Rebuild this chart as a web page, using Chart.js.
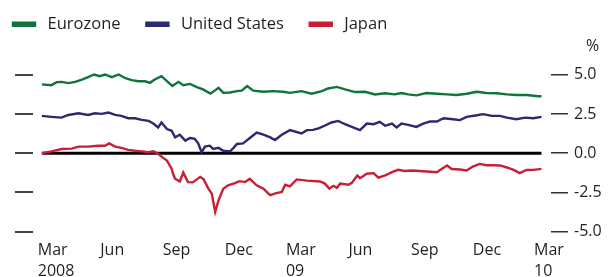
<!DOCTYPE html>
<html>
<head>
<meta charset="utf-8">
<script src="https://cdn.jsdelivr.net/npm/chart.js@4.4.1/dist/chart.umd.min.js"></script>
<style>
  html, body { margin: 0; padding: 0; background: #fff; }
  #chart { display: block; }
</style>
</head>
<body>
<canvas id="chart" width="615" height="277"></canvas>
<script>
// days counted from 1 Mar 2008
const tickDays = [0, 92, 184, 275, 365, 457, 549, 640, 730];
const tickLabels = [['Mar', '2008'], 'Jun', 'Sep', 'Dec', ['Mar', '09'], 'Jun', 'Sep', 'Dec', ['Mar', '10']];
const yTicks = [5, 2.5, 0, -2.5, -5];

const euroDays = [6, 20, 28, 35, 45, 55, 65, 74, 83, 91, 99, 109, 119, 128, 138, 148, 158, 165, 172, 182,
  190, 198, 207, 214, 224, 234, 243, 254, 266, 273, 283, 293, 300, 308, 317, 332, 346, 361, 371, 388,
  403, 418, 427, 440, 452, 467, 481, 496, 511, 525, 535, 545, 557, 572, 587, 602, 616, 631, 646, 660,
  675, 690, 704, 719, 736, 741];
const euroValues = [4.39, 4.34, 4.53, 4.55, 4.47, 4.55, 4.70, 4.85, 5.02, 4.91, 5.02, 4.85, 5.02, 4.80, 4.66, 4.59, 4.59, 4.49, 4.70, 4.91,
  4.59, 4.28, 4.55, 4.34, 4.42, 4.22, 4.07, 3.80, 4.17, 3.85, 3.87, 3.96, 3.99, 4.28, 3.99, 3.92, 3.96, 3.92, 3.85, 3.96,
  3.79, 3.96, 4.13, 4.23, 4.07, 3.90, 3.92, 3.75, 3.82, 3.75, 3.84, 3.75, 3.69, 3.84, 3.79, 3.75, 3.71, 3.79, 3.92, 3.84,
  3.82, 3.75, 3.71, 3.71, 3.63, 3.63];

const usDays = [6, 20, 35, 45, 60, 74, 84, 94, 104, 114, 123, 133, 143, 153, 163, 170, 177, 182, 190, 197,
  202, 209, 217, 224, 231, 236, 241, 246, 253, 258, 266, 273, 283, 288, 293, 302, 312, 322, 332, 342,
  349, 359, 371, 388, 396, 405, 413, 422, 432, 442, 452, 462, 474, 484, 494, 503, 511, 521, 528, 535,
  545, 557, 567, 577, 587, 597, 611, 621, 631, 646, 655, 668, 680, 690, 704, 717, 729, 741];
const usValues = [2.38, 2.32, 2.27, 2.44, 2.55, 2.44, 2.55, 2.51, 2.59, 2.44, 2.38, 2.23, 2.23, 2.13, 2.06, 1.89, 1.64, 1.96, 1.54, 1.43,
  1.01, 1.18, 0.80, 0.97, 0.91, 0.63, 0.06, 0.42, 0.48, 0.27, 0.34, 0.16, 0.12, 0.34, 0.59, 0.63, 0.97, 1.32, 1.18, 1.01,
  0.84, 1.18, 1.47, 1.26, 1.47, 1.49, 1.58, 1.75, 1.96, 2.06, 1.85, 1.68, 1.47, 1.89, 1.85, 2.00, 1.75, 1.89, 1.64, 1.89,
  1.81, 1.68, 1.89, 2.02, 2.02, 2.23, 2.17, 2.11, 2.32, 2.42, 2.49, 2.38, 2.38, 2.27, 2.17, 2.27, 2.23, 2.32];

const japanDays = [6, 20, 35, 50, 60, 74, 89, 99, 105, 114, 123, 133, 143, 153, 163, 170, 177, 183, 190, 197,
  199, 202, 209, 214, 221, 228, 239, 244, 251, 256, 261, 266, 273, 280, 289, 297, 305, 312, 322, 332,
  339, 342, 351, 359, 364, 371, 381, 396, 415, 422, 429, 435, 440, 445, 457, 462, 470, 474, 484, 494,
  501, 511, 521, 530, 540, 550, 562, 577, 587, 602, 609, 621, 631, 640, 650, 660, 670, 680, 690, 700,
  709, 719, 729, 741];
const japanValues = [0.00, 0.12, 0.27, 0.29, 0.42, 0.42, 0.48, 0.48, 0.63, 0.42, 0.34, 0.21, 0.16, 0.12, 0.06, 0.12, -0.04, -0.25, -0.47, -0.99,
  -1.31, -1.63, -1.80, -1.23, -1.84, -1.86, -1.51, -1.67, -2.26, -2.58, -3.74, -3.00, -2.26, -2.05, -1.92, -1.78, -1.84, -1.63, -2.05, -2.26,
  -2.56, -2.68, -2.54, -2.47, -2.01, -2.11, -1.67, -1.75, -1.80, -1.92, -2.26, -2.08, -2.21, -1.94, -2.01, -1.89, -1.42, -1.59, -1.31, -1.27,
  -1.56, -1.42, -1.21, -1.06, -1.13, -1.10, -1.13, -1.18, -1.21, -0.78, -1.01, -1.04, -1.10, -0.85, -0.68, -0.77, -0.77, -0.78, -0.91, -1.06,
  -1.27, -1.07, -1.06, -1.00];

const zeroDays = [6, 741];

const font = "'Open Sans', sans-serif";
const textColor = '#231f20';

function toPoints(days, values) {
  return days.map((d, i) => ({ x: d, y: values[i] }));
}

function series(label, color, days, values) {
  return {
    label: label,
    data: toPoints(days, values),
    borderColor: color,
    backgroundColor: color,
    borderWidth: 2.4,
    pointRadius: 0,
    tension: 0,
    order: 0
  };
}

// "%" above the right axis
const percentLabel = {
  id: 'percentLabel',
  afterDraw(chart) {
    const y = chart.scales.y;
    const ctx = chart.ctx;
    ctx.save();
    ctx.font = '16px ' + font;
    ctx.fillStyle = textColor;
    ctx.textAlign = 'left';
    ctx.textBaseline = 'middle';
    ctx.fillText('%', y.left + 35, y.getPixelForValue(5) - 28);
    ctx.restore();
  }
};

const yCommon = {
  type: 'linear',
  min: -5.47,
  max: 7.06,
  afterBuildTicks: (scale) => { scale.ticks = yTicks.map(v => ({ value: v })); },
  border: { display: false }
};

new Chart(document.getElementById('chart'), {
  type: 'line',
  data: {
    datasets: [
      series('Eurozone', '#10733f', euroDays, euroValues),
      series('United States', '#2b2a6e', usDays, usValues),
      series('Japan', '#c71f35', japanDays, japanValues),
      {
        label: 'zero',
        data: toPoints(zeroDays, [0, 0]),
        borderColor: '#000',
        borderWidth: 3,
        pointRadius: 0,
        order: 1
      }
    ]
  },
  options: {
    responsive: false,
    animation: false,
    devicePixelRatio: 1,
    layout: { padding: { top: 3, left: 0, right: 0, bottom: 0 } },
    plugins: {
      tooltip: { enabled: false },
      legend: {
        position: 'top',
        align: 'start',
        labels: {
          boxWidth: 22,
          boxHeight: 3,
          padding: 13,
          color: textColor,
          font: { family: font, size: 16.5 },
          filter: (item) => item.text !== 'zero',
          generateLabels: (chart) => Chart.defaults.plugins.legend.labels.generateLabels(chart)
            .map(item => Object.assign(item, { text: item.text === 'zero' ? 'zero' : ' ' + item.text + '   ' }))
        }
      }
    },
    scales: {
      x: {
        type: 'linear',
        min: -7,
        max: 755,
        afterBuildTicks: (scale) => { scale.ticks = tickDays.map(v => ({ value: v })); },
        afterFit: (scale) => { scale.height = 38; },
        grid: { display: false, drawTicks: false },
        border: { display: false },
        ticks: {
          align: 'start',
          autoSkip: false,
          maxRotation: 0,
          padding: 1,
          color: textColor,
          font: { family: font, size: 16, lineHeight: 1.3 },
          callback: (value) => tickLabels[tickDays.indexOf(value)]
        }
      },
      y: Object.assign({}, yCommon, {
        position: 'right',
        afterFit: (scale) => { scale.width = 64; },
        grid: { drawOnChartArea: false, drawTicks: true, tickLength: 17, color: '#333', lineWidth: 1.5 },
        ticks: {
          padding: 6,
          color: textColor,
          font: { family: font, size: 16 },
          callback: (value) => value.toFixed(1)
        }
      }),
      yLeft: Object.assign({}, yCommon, {
        position: 'left',
        afterFit: (scale) => { scale.width = 33; },
        grid: { drawOnChartArea: false, drawTicks: true, tickLength: 18, color: '#444', lineWidth: 2 },
        ticks: { display: false }
      })
    }
  },
  plugins: [percentLabel]
});
</script>
</body>
</html>
